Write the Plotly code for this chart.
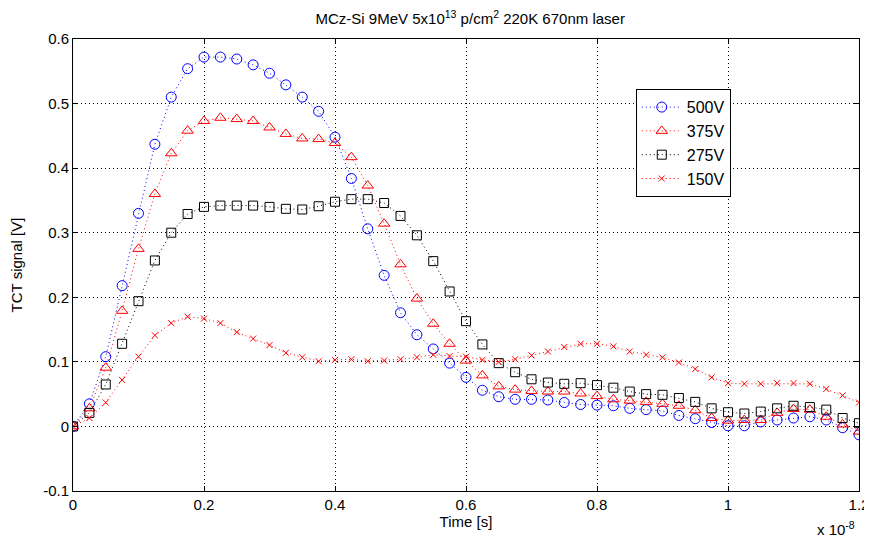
import plotly.graph_objects as go

# time axis in units of 1e-8 s
time_e8 = [0, 0.025, 0.05, 0.075, 0.1, 0.125, 0.15, 0.175, 0.2, 0.225,
           0.25, 0.275, 0.3, 0.325, 0.35, 0.375, 0.4, 0.425, 0.45, 0.475,
           0.5, 0.525, 0.55, 0.575, 0.6, 0.625, 0.65, 0.675, 0.7, 0.725,
           0.75, 0.775, 0.8, 0.825, 0.85, 0.875, 0.9, 0.925, 0.95, 0.975,
           1.0, 1.025, 1.05, 1.075, 1.1, 1.125, 1.15, 1.175, 1.2]

v500 = [0, 0.035, 0.108, 0.218, 0.330, 0.437, 0.510, 0.554, 0.572, 0.572,
        0.569, 0.560, 0.547, 0.529, 0.510, 0.488, 0.448, 0.384, 0.306, 0.234,
        0.176, 0.142, 0.120, 0.098, 0.076, 0.056, 0.046, 0.042, 0.042, 0.041,
        0.037, 0.034, 0.033, 0.032, 0.028, 0.026, 0.024, 0.017, 0.012, 0.006,
        0.001, 0.001, 0.007, 0.010, 0.013, 0.015, 0.010, -0.002, -0.013]

v375 = [0, 0.028, 0.091, 0.179, 0.275, 0.360, 0.423, 0.458, 0.473, 0.478,
        0.476, 0.473, 0.463, 0.453, 0.446, 0.445, 0.439, 0.417, 0.373, 0.314,
        0.251, 0.198, 0.159, 0.128, 0.102, 0.079, 0.062, 0.057, 0.055, 0.054,
        0.054, 0.051, 0.047, 0.042, 0.040, 0.038, 0.035, 0.032, 0.025, 0.013,
        0.009, 0.010, 0.010, 0.021, 0.027, 0.026, 0.015, 0.003, -0.008]

v275 = [0, 0.021, 0.065, 0.128, 0.194, 0.257, 0.300, 0.329, 0.340, 0.342,
        0.342, 0.342, 0.340, 0.337, 0.336, 0.341, 0.348, 0.352, 0.352, 0.346,
        0.326, 0.296, 0.256, 0.209, 0.163, 0.127, 0.098, 0.084, 0.073, 0.068,
        0.066, 0.067, 0.064, 0.060, 0.054, 0.050, 0.049, 0.044, 0.038, 0.028,
        0.022, 0.020, 0.023, 0.028, 0.032, 0.030, 0.026, 0.013, 0.005]

v150 = [0, 0.013, 0.037, 0.072, 0.108, 0.141, 0.160, 0.170, 0.167, 0.160,
        0.146, 0.136, 0.126, 0.114, 0.107, 0.101, 0.103, 0.104, 0.101, 0.102,
        0.104, 0.107, 0.111, 0.109, 0.108, 0.103, 0.100, 0.104, 0.110, 0.116,
        0.123, 0.128, 0.128, 0.124, 0.116, 0.111, 0.107, 0.099, 0.089, 0.076,
        0.067, 0.066, 0.066, 0.067, 0.067, 0.066, 0.058, 0.048, 0.037]

x_ticks = [0, 0.2, 0.4, 0.6, 0.8, 1.0, 1.2]
x_labels = ['0', '0.2', '0.4', '0.6', '0.8', '1', '1.2']
y_ticks = [-0.1, 0, 0.1, 0.2, 0.3, 0.4, 0.5, 0.6]
y_labels = ['-0.1', '0', '0.1', '0.2', '0.3', '0.4', '0.5', '0.6']

series = [
    ('500V', v500, 'blue', 'circle-open', 10),
    ('375V', v375, 'red', 'triangle-up-open', 10),
    ('275V', v275, 'black', 'square-open', 9),
    ('150V', v150, 'red', 'x-thin-open', 6),
]

FONT = 'Liberation Sans, Arial, sans-serif'
DOTS = '1px,3px'

fig = go.Figure()
for name, vals, color, symbol, size in series:
    fig.add_trace(go.Scatter(
        x=time_e8, y=vals, name=name, mode='lines+markers',
        line=dict(color=color, width=1, dash=DOTS),
        marker=dict(symbol=symbol, size=size, color=color,
                    line=dict(color=color, width=1)),
    ))

axis_common = dict(
    showline=True, linecolor='black', linewidth=1, mirror='ticks',
    ticks='inside', ticklen=5, tickcolor='black',
    showgrid=True, gridcolor='black', gridwidth=1, griddash=DOTS,
    zeroline=False, automargin=False,
    tickfont=dict(family=FONT, size=15, color='black'),
)

fig.update_xaxes(range=[0, 1.2], tickvals=x_ticks, ticktext=x_labels,
                 title=dict(text='Time [s]', font=dict(family=FONT, size=15, color='black'), standoff=2),
                 **axis_common)
fig.update_yaxes(range=[-0.1, 0.6], tickvals=y_ticks, ticktext=y_labels,
                 title=dict(text='TCT signal [V]', font=dict(family=FONT, size=15, color='black'), standoff=17),
                 **axis_common)

# the page body adds an 8px margin, so the figure is 8px smaller than the window
fig.update_layout(
    width=864, height=534,
    margin=dict(l=65, r=13, t=31, b=51),
    paper_bgcolor='white', plot_bgcolor='white',
    title=dict(text='MCz-Si 9MeV 5x10<sup>13</sup> p/cm<sup>2</sup> 220K 670nm laser',
               x=0.535, xanchor='center', y=0.99, yanchor='top',
               font=dict(family=FONT, size=15, color='black')),
    legend=dict(x=0.716, y=0.889, xanchor='left', yanchor='top',
                bgcolor='white', bordercolor='black', borderwidth=1,
                font=dict(family=FONT, size=16, color='black'),
                tracegroupgap=0, itemwidth=40),
    showlegend=True,
)

fig.add_annotation(text='x 10<sup>-8</sup>', xref='paper', yref='paper',
                   x=0.997, y=-0.082, xanchor='right', yanchor='middle', showarrow=False,
                   font=dict(family=FONT, size=15, color='black'))

fig.write_html('out.html')
